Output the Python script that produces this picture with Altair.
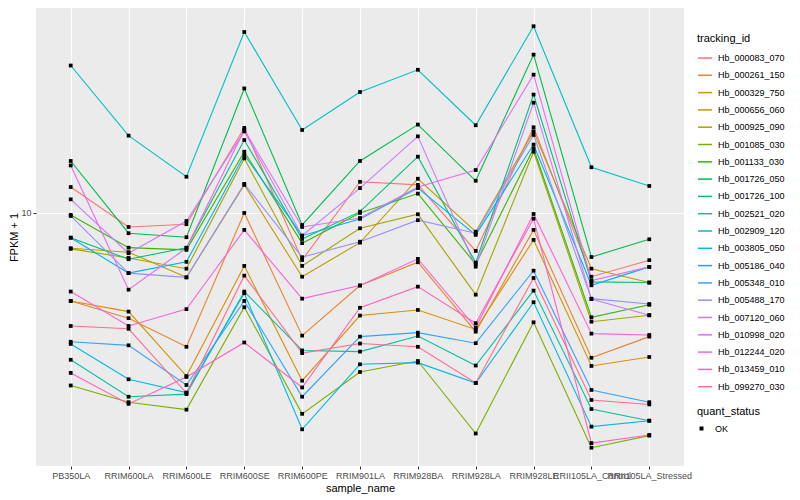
import altair as alt
import pandas as pd

samples = ["PB350LA", "RRIM600LA", "RRIM600LE", "RRIM600SE", "RRIM600PE",
           "RRIM901LA", "RRIM928BA", "RRIM928LA", "RRIM928LE",
           "RRII105LA_Control", "RRII105LA_Stressed"]

tracking_ids = ["Hb_000083_070", "Hb_000261_150", "Hb_000329_750", "Hb_000656_060",
                "Hb_000925_090", "Hb_001085_030", "Hb_001133_030", "Hb_001726_050",
                "Hb_001726_100", "Hb_002521_020", "Hb_002909_120", "Hb_003805_050",
                "Hb_005186_040", "Hb_005348_010", "Hb_005488_170", "Hb_007120_060",
                "Hb_010998_020", "Hb_012244_020", "Hb_013459_010", "Hb_099270_030"]

colors = ["#F8766D", "#EA8331", "#D89000", "#C09B00", "#A3A500", "#7CAE00", "#39B600",
          "#00BB4E", "#00BF7D", "#00C1A3", "#00BFC4", "#00BAE0", "#00B0F6", "#35A2FF",
          "#9590FF", "#C77CFF", "#E76BF3", "#FA62DB", "#FF62BC", "#FF6C91"]

# FPKM + 1 per sample (same order as samples)
hb_000083_070 = [12.2, 8.98, 9.17, 19.2, 6.97, 12.7, 12.4, 7.47, 19.3, 6.13, 6.96]
hb_000261_150 = [5.09, 4.46, 3.58, 10.0, 3.90, 5.73, 6.85, 4.02, 8.78, 3.29, 3.87]
hb_000329_750 = [5.09, 4.69, 2.86, 6.66, 2.76, 4.55, 4.75, 4.09, 8.13, 3.09, 3.31]
hb_000656_060 = [7.63, 7.40, 6.10, 12.4, 6.13, 7.96, 13.0, 8.66, 18.7, 6.52, 5.86]
hb_000925_090 = [7.59, 7.08, 6.52, 15.2, 6.66, 8.89, 9.90, 5.34, 16.0, 4.34, 4.56]
hb_001085_030 = [2.66, 2.34, 2.21, 4.85, 2.14, 2.95, 3.21, 1.84, 4.32, 1.65, 1.81]
hb_001133_030 = [9.85, 7.66, 7.53, 16.0, 7.93, 10.0, 11.6, 6.75, 16.4, 4.49, 4.94]
hb_001726_050 = [14.9, 8.56, 8.30, 26.0, 9.12, 14.9, 19.7, 12.8, 33.7, 7.13, 8.17]
hb_001726_100 = [8.27, 7.01, 7.66, 17.5, 8.19, 10.1, 15.4, 6.83, 24.8, 5.89, 5.86]
hb_002521_020 = [3.24, 2.44, 2.49, 5.47, 3.48, 3.45, 3.89, 3.10, 5.51, 2.22, 2.03]
hb_002909_120 = [31.0, 18.1, 13.2, 40.1, 18.9, 25.3, 30.0, 19.6, 41.9, 14.2, 12.3]
hb_003805_050 = [3.66, 2.79, 2.52, 5.40, 1.90, 3.13, 3.17, 2.71, 5.04, 1.94, 2.03]
hb_005186_040 = [8.27, 6.30, 6.87, 15.6, 8.40, 9.55, 12.1, 8.45, 16.9, 5.74, 6.61]
hb_005348_010 = [3.72, 3.62, 2.67, 5.09, 2.44, 3.87, 3.99, 3.68, 6.42, 2.57, 2.34]
hb_005488_170 = [9.77, 6.30, 6.10, 12.5, 7.12, 8.02, 9.46, 8.56, 18.2, 5.18, 4.97]
hb_007120_060 = [11.1, 7.34, 9.40, 18.7, 8.40, 12.1, 18.0, 6.62, 23.3, 5.16, 4.56]
hb_010998_020 = [14.4, 5.55, 7.64, 18.9, 8.98, 9.62, 12.2, 13.9, 28.9, 5.95, 6.61]
hb_012244_020 = [5.47, 4.20, 4.78, 8.78, 5.18, 5.73, 7.03, 4.15, 9.92, 3.96, 3.92]
hb_013459_010 = [2.93, 2.31, 2.84, 3.70, 2.62, 4.83, 5.68, 4.29, 9.57, 1.71, 1.82]
hb_099270_030 = [4.20, 4.11, 2.51, 6.18, 3.41, 3.67, 3.58, 2.71, 6.07, 2.38, 2.30]

series = [hb_000083_070, hb_000261_150, hb_000329_750, hb_000656_060, hb_000925_090,
          hb_001085_030, hb_001133_030, hb_001726_050, hb_001726_100, hb_002521_020,
          hb_002909_120, hb_003805_050, hb_005186_040, hb_005348_010, hb_005488_170,
          hb_007120_060, hb_010998_020, hb_012244_020, hb_013459_010, hb_099270_030]

rows = []
for tid, vals in zip(tracking_ids, series):
    for s, v in zip(samples, vals):
        rows.append({"tracking_id": tid, "sample_name": s, "fpkm": v, "quant_status": "OK"})
df = pd.DataFrame(rows)

FONT = "Liberation Sans"

x_enc = alt.X("sample_name:N", sort=samples,
              scale=alt.Scale(type="point", padding=0.6),
              axis=alt.Axis(title="sample_name", labelAngle=0, labelOverlap=False,
                            labelFlush=False, titlePadding=2, labelPadding=2))
y_enc = alt.Y("fpkm:Q",
              scale=alt.Scale(type="log", domain=[1.434, 48.2], nice=False),
              axis=alt.Axis(title="FPKM + 1", values=[10], format="d", titlePadding=1,
                            labelPadding=2))

lines = alt.Chart(df).mark_line(strokeWidth=1.1).encode(
    x=x_enc, y=y_enc,
    color=alt.Color("tracking_id:N",
                    scale=alt.Scale(domain=tracking_ids, range=colors),
                    legend=alt.Legend(title="tracking_id", orient="none",
                                      legendX=661, legendY=25, symbolType="stroke",
                                      symbolSize=196, symbolStrokeWidth=1.5,
                                      rowPadding=4.3, labelOffset=5, titlePadding=6,
                                      padding=0)),
    detail="tracking_id:N",
)

points = alt.Chart(df).mark_point(filled=True, size=14, color="black", opacity=1).encode(
    x=x_enc, y=y_enc,
    shape=alt.Shape("quant_status:N",
                    scale=alt.Scale(domain=["OK"], range=["square"]),
                    legend=alt.Legend(title="quant_status", orient="none",
                                      legendX=661, legendY=398, symbolSize=16,
                                      symbolFillColor="black", symbolStrokeColor="black",
                                      labelOffset=9, titlePadding=7, padding=0)),
)

chart = alt.layer(lines, points).properties(
    width=648, height=458,
    padding={"left": 28, "top": 0, "right": 108, "bottom": 34},
    autosize=alt.AutoSizeParams(type="none"),
).configure_view(
    fill="#EBEBEB", strokeWidth=0
).configure_axis(
    grid=True, gridColor="white", gridWidth=1.1, domain=False,
    tickColor="#333333", tickSize=3, labelColor="#4D4D4D", labelFontSize=9,
    labelFont=FONT, titleFont=FONT, titleFontSize=11, titleColor="black",
    titleFontWeight="normal"
).configure_legend(
    labelFont=FONT, titleFont=FONT, labelFontSize=9, titleFontSize=11,
    titleColor="black", labelColor="black", titleFontWeight="normal"
)

chart.save("out.html", embed_options={"renderer": "svg", "actions": False})
